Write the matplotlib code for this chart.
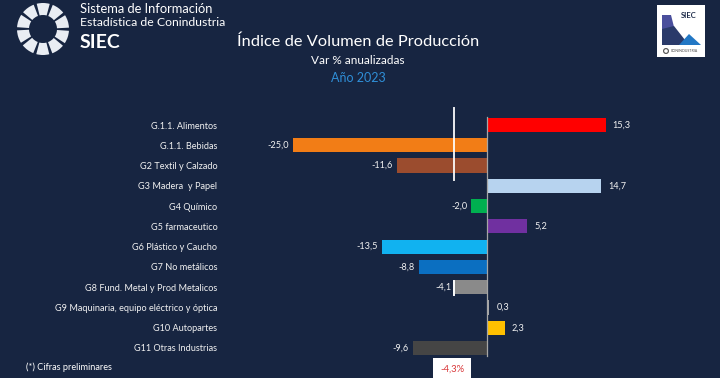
import matplotlib
matplotlib.use("Agg")
import matplotlib.pyplot as plt
from matplotlib.patches import Wedge, Polygon, Rectangle
import numpy as np

plt.rcParams['font.family'] = ['Lato', 'DejaVu Sans']

# data
categories = ["G.1.1. Alimentos", "G.1.1. Bebidas", "G2 Textil y Calzado",
              "G3 Madera  y Papel", "G4 Químico", "G5 farmaceutico",
              "G6 Plástico y Caucho", "G7 No metálicos",
              "G8 Fund. Metal y Prod Metalicos",
              "G9 Maquinaria, equipo eléctrico y óptica",
              "G10 Autopartes", "G11 Otras Industrias"]
values = [15.3, -25.0, -11.6, 14.7, -2.0, 5.2, -13.5, -8.8, -4.1, 0.3, 2.3, -9.6]
colors = ["#ff0000", "#f27d16", "#9b4c2e", "#b7d3ef", "#00b050", "#7030a0",
          "#11b2f0", "#0b6fc1", "#8a8a8a", "#a6a6a6", "#ffc000", "#454545"]
total = -4.3

BG = "#172541"
W, H = 720, 378


def px(x, y):
    return x / W, 1 - y / H


fig = plt.figure(figsize=(7.2, 3.78), dpi=100, facecolor=BG)

# bar axes: zero at x=487px, 7.76 px per unit; rows from y=125px every 20.27px
ax_l, ax_r, ax_t, ax_b = 230, 700, 105, 370
ax = fig.add_axes([ax_l / W, 1 - ax_b / H, (ax_r - ax_l) / W, (ax_b - ax_t) / H])
ax.set_facecolor(BG)
sc = 7.76
rs = 20.27
ax.set_xlim((ax_l - 487) / sc, (ax_r - 487) / sc)
ax.set_ylim(11 + (ax_b - 348) / rs, -(125 - ax_t) / rs)
for s in ax.spines.values():
    s.set_visible(False)

ypos = np.arange(len(categories))
ax.barh(ypos, values, height=0.7, color=colors, zorder=2)
ax.plot([0, 0], [-0.4, 11.4], color="#a6a6a6", lw=0.9, zorder=3)

ax.set_yticks(ypos)
ax.set_yticklabels(categories, color="#f2f2f2", fontsize=6.6)
ax.tick_params(axis='y', length=0, pad=9)
ax.set_xticks([])

for y, v in zip(ypos, values):
    lab = f"{v:.1f}".replace(".", ",")
    if v >= 0:
        ax.text(v + 0.9, y, lab, color="#f2f2f2", fontsize=6.6, va="center", ha="left")
    else:
        ax.text(v - 0.5, y, lab, color="#f2f2f2", fontsize=6.6, va="center", ha="right")

# total marker line
ax.plot([total, total], [-0.84, 2.71], color="white", lw=1.4, zorder=4, alpha=0.9)
ax.plot([total, total], [7.7, 8.4], color="white", lw=1.4, zorder=4)

# total box
fig.text(*px(452, 369), "-4,3%", color="#d9383a", fontsize=6.8, ha="center",
         va="center", bbox=dict(boxstyle="square,pad=0.7", fc="white", ec="none"))
fig.text(*px(26, 367), "(*) Cifras preliminares", color="white", fontsize=6.6,
         ha="left", va="center")

# titles
fig.text(*px(358, 42), "Índice de Volumen de Producción", color="white",
         fontsize=11.8, ha="center", va="center")
fig.text(*px(358, 61), "Var % anualizadas", color="white", fontsize=8.5,
         ha="center", va="center")
fig.text(*px(358, 78), "Año 2023", color="#2f8fd8", fontsize=9,
         ha="center", va="center")

# header text
fig.text(*px(80, 9), "Sistema de Información", color="white", fontsize=9.3,
         ha="left", va="center")
fig.text(*px(80, 23), "Estadística de Conindustria", color="white", fontsize=8.8,
         ha="left", va="center")
fig.text(*px(80, 43), "SIEC", color="white", fontsize=14, fontweight="bold",
         ha="left", va="center")

# left logo: ring of white segments
lg = fig.add_axes([0, 1 - 60 / H, 80 / W, 60 / H])
lg.set_xlim(0, 80)
lg.set_ylim(60, 0)
lg.axis("off")
for k in range(10):
    a0 = k * 36 + 4
    lg.add_patch(Wedge((43, 29), 26, a0, a0 + 29, width=12, fc="#e9edf3", ec="none"))

# right logo
rl = fig.add_axes([657 / W, 1 - 57 / H, 48 / W, 52 / H])
rl.set_xlim(0, 48)
rl.set_ylim(52, 0)
rl.axis("off")
rl.add_patch(Rectangle((0, 0), 48, 52, fc="white", ec="none"))
rl.add_patch(Polygon([(5, 10), (14, 10), (17, 22), (5, 34)], fc="#4a4f9c", ec="none"))
rl.add_patch(Polygon([(5, 24), (17, 21), (28, 35), (24, 40), (5, 40)], fc="#2a3a6a", ec="none"))
rl.add_patch(Polygon([(22, 40), (32, 29), (44, 40)], fc="#2277c4", ec="none"))
rl.text(32, 11, "SIEC", fontsize=5.5, fontweight="bold", color="#1c2a48",
        ha="center", va="center")
rl.add_patch(Wedge((9, 46), 3, 0, 360, width=1.2, fc="#555555", ec="none"))
rl.text(14, 46, "CONINDUSTRIA", fontsize=2.6, color="#444444", va="center")

fig.savefig("out.png", dpi=100, facecolor=BG)
